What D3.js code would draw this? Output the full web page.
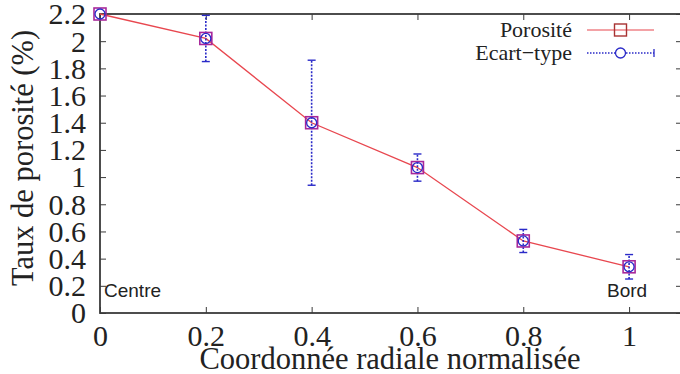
<!DOCTYPE html>
<html>
<head>
<meta charset="utf-8">
<script src="https://cdn.jsdelivr.net/npm/d3@7"></script>
<style>
  body { margin: 0; background: #fff; }
  svg { display: block; }
</style>
</head>
<body>
<svg width="680" height="374"></svg>
<script>
// Porosity profile along the normalised radius, with standard deviation bars.

const width = 680;
const height = 374;

const radius = [0, 0.2, 0.4, 0.6, 0.8, 1.0];
const porosity = [2.2, 2.02, 1.4, 1.07, 0.53, 0.34];
const stdDev = [0, 0.17, 0.46, 0.1, 0.085, 0.09];

const xTicks = [0, 0.2, 0.4, 0.6, 0.8, 1];
const yTicks = [0, 0.2, 0.4, 0.6, 0.8, 1, 1.2, 1.4, 1.6, 1.8, 2, 2.2];

const plotLeft = 100;
const plotRight = 682;
const plotTop = 14;
const plotBottom = 313;

const lineColor = "#e8474f";
const errColor = "#2a2ac8";
const squareColor = "#a8289a";
const frameColor = "#3a3a3a";
const serifFont = "'Liberation Serif'";
const sansFont = "'Liberation Sans'";

const svg = d3.select("svg");

const xScale = d3.scaleLinear().domain([0, 1.1]).range([plotLeft, plotRight]);
const yScale = d3.scaleLinear().domain([0, 2.2]).range([plotBottom, plotTop]);

const fmt = (d) => String(+d.toFixed(1));

// axes, ticks pointing inwards (mirrored on top and right)
const styleAxis = (g) => {
  g.attr("font-family", null).attr("font-size", null);
  g.select(".domain").remove();
  g.selectAll(".tick line").attr("stroke", frameColor).attr("stroke-width", 1);
  g.selectAll(".tick text")
    .attr("fill", "#222")
    .style("font-family", serifFont)
    .style("font-size", "30px");
};

svg.append("g")
  .attr("transform", `translate(0,${plotBottom})`)
  .call(d3.axisBottom(xScale).tickValues(xTicks).tickFormat(fmt).tickSizeInner(-6).tickSizeOuter(0))
  .call(styleAxis)
  .call((g) => g.selectAll(".tick text").attr("dy", null).attr("y", 33));

svg.append("g")
  .attr("transform", `translate(0,${plotTop})`)
  .call(d3.axisTop(xScale).tickValues(xTicks).tickFormat("").tickSizeInner(-6).tickSizeOuter(0))
  .call(styleAxis);

svg.append("g")
  .attr("transform", `translate(${plotLeft},0)`)
  .call(d3.axisLeft(yScale).tickValues(yTicks).tickFormat(fmt).tickSizeInner(-6).tickSizeOuter(0))
  .call(styleAxis)
  .call((g) => g.selectAll(".tick text").attr("x", -14).attr("dy", "0.33em"));

svg.append("g")
  .attr("transform", `translate(${plotRight},0)`)
  .call(d3.axisRight(yScale).tickValues(yTicks).tickFormat("").tickSizeInner(-6).tickSizeOuter(0))
  .call(styleAxis);

// frame
svg.append("rect")
  .attr("x", plotLeft)
  .attr("y", plotTop)
  .attr("width", plotRight - plotLeft)
  .attr("height", plotBottom - plotTop)
  .attr("fill", "none")
  .attr("stroke", frameColor)
  .attr("stroke-width", 1.8);

// axis titles
svg.append("text")
  .attr("x", 390)
  .attr("y", 369)
  .attr("text-anchor", "middle")
  .style("font-family", serifFont)
  .style("font-size", "30.5px")
  .attr("fill", "#222")
  .text("Coordonnée radiale normalisée");

svg.append("text")
  .attr("transform", "rotate(-90)")
  .attr("x", -158)
  .attr("y", 33)
  .attr("text-anchor", "middle")
  .style("font-family", serifFont)
  .style("font-size", "30.5px")
  .attr("fill", "#222")
  .text("Taux de porosité (%)");

// annotations
svg.append("text")
  .attr("x", xScale(0) + 4)
  .attr("y", 297)
  .style("font-family", sansFont)
  .style("font-size", "19px")
  .attr("fill", "#222")
  .text("Centre");

svg.append("text")
  .attr("x", xScale(1) - 2)
  .attr("y", 297)
  .attr("text-anchor", "middle")
  .style("font-family", sansFont)
  .style("font-size", "19px")
  .attr("fill", "#222")
  .text("Bord");

const points = radius.map((r, i) => ({ r: r, p: porosity[i], s: stdDev[i] }));

// porosity line
const line = d3.line()
  .x((d) => xScale(d.r))
  .y((d) => yScale(d.p));

svg.append("path")
  .datum(points)
  .attr("d", line)
  .attr("fill", "none")
  .attr("stroke", lineColor)
  .attr("stroke-width", 1.3);

// error bars
const errs = svg.append("g")
  .selectAll("g")
  .data(points.filter((d) => d.s > 0))
  .enter()
  .append("g");

errs.append("line")
  .attr("x1", (d) => xScale(d.r))
  .attr("x2", (d) => xScale(d.r))
  .attr("y1", (d) => yScale(d.p - d.s))
  .attr("y2", (d) => yScale(d.p + d.s))
  .attr("stroke", errColor)
  .attr("stroke-width", 1.6)
  .attr("stroke-dasharray", "2,1.5");

[-1, 1].forEach((sign) => {
  errs.append("line")
    .attr("x1", (d) => xScale(d.r) - 4)
    .attr("x2", (d) => xScale(d.r) + 4)
    .attr("y1", (d) => yScale(d.p + sign * d.s))
    .attr("y2", (d) => yScale(d.p + sign * d.s))
    .attr("stroke", errColor)
    .attr("stroke-width", 1.4);
});

// markers
svg.append("g")
  .selectAll("rect")
  .data(points)
  .enter()
  .append("rect")
  .attr("x", (d) => xScale(d.r) - 6)
  .attr("y", (d) => yScale(d.p) - 6)
  .attr("width", 12)
  .attr("height", 12)
  .attr("fill", "none")
  .attr("stroke", squareColor)
  .attr("stroke-width", 1.6);

svg.append("g")
  .selectAll("circle")
  .data(points)
  .enter()
  .append("circle")
  .attr("cx", (d) => xScale(d.r))
  .attr("cy", (d) => yScale(d.p))
  .attr("r", 5)
  .attr("fill", "none")
  .attr("stroke", errColor)
  .attr("stroke-width", 1.3);

// legend
const legend = svg.append("g");
const lx1 = 587;
const lx2 = 654;
const lmid = (lx1 + lx2) / 2;

legend.append("text")
  .attr("x", 572)
  .attr("y", 37)
  .attr("text-anchor", "end")
  .style("font-family", serifFont)
  .style("font-size", "22px")
  .attr("fill", "#222")
  .text("Porosité");

legend.append("line")
  .attr("x1", lx1).attr("x2", lx2)
  .attr("y1", 30).attr("y2", 30)
  .attr("stroke", lineColor)
  .attr("stroke-width", 1.2);

legend.append("rect")
  .attr("x", lmid - 6).attr("y", 24)
  .attr("width", 12).attr("height", 12)
  .attr("fill", "none")
  .attr("stroke", "#a83232")
  .attr("stroke-width", 1.4);

legend.append("text")
  .attr("x", 572)
  .attr("y", 60)
  .attr("text-anchor", "end")
  .style("font-family", serifFont)
  .style("font-size", "22px")
  .attr("fill", "#222")
  .text("Ecart−type");

legend.append("line")
  .attr("x1", lx1).attr("x2", lx2)
  .attr("y1", 53).attr("y2", 53)
  .attr("stroke", errColor)
  .attr("stroke-width", 1.4)
  .attr("stroke-dasharray", "1.5,1.5");

legend.append("line")
  .attr("x1", lx2).attr("x2", lx2)
  .attr("y1", 49).attr("y2", 57)
  .attr("stroke", errColor)
  .attr("stroke-width", 1.3);

legend.append("circle")
  .attr("cx", lmid).attr("cy", 53)
  .attr("r", 5)
  .attr("fill", "#fff")
  .attr("stroke", errColor)
  .attr("stroke-width", 1.3);
</script>
</body>
</html>
